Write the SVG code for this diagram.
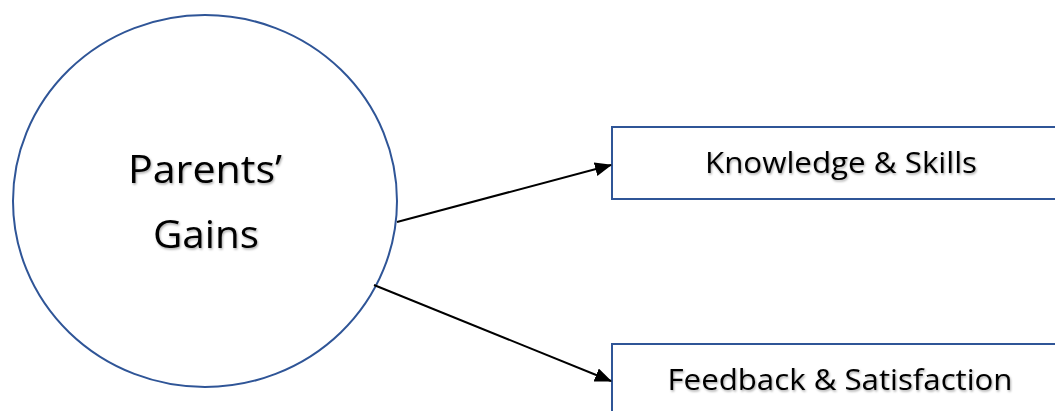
<svg xmlns="http://www.w3.org/2000/svg" width="1055" height="411" viewBox="0 0 1055 411">
  <style>
    .shape { fill: #ffffff; stroke: #2F5597; stroke-width: 2; }
    .label { font-family: "Open Sans", "Noto Sans", sans-serif; fill: #000000; text-anchor: middle; filter: url(#shadow); }
    .conn { stroke: #000000; stroke-width: 2; fill: none; marker-end: url(#arrow); }
  </style>
  <defs>
    <marker id="arrow" viewBox="0 0 17 14" refX="16" refY="7" markerWidth="17" markerHeight="14" markerUnits="userSpaceOnUse" orient="auto">
      <path d="M0,0 L17,7 L0,14 z" fill="#000000"/>
    </marker>
    <filter id="shadow" x="-10%" y="-30%" width="120%" height="160%">
      <feDropShadow dx="1" dy="1.5" stdDeviation="1" flood-color="#000000" flood-opacity="0.35"/>
    </filter>
  </defs>
  <rect width="1055" height="411" fill="#ffffff"/>
  <g id="node-parents-gains">
    <ellipse class="shape" cx="205" cy="201" rx="192" ry="186"/>
    <text class="label" x="205" y="183" font-size="38" textLength="154" lengthAdjust="spacingAndGlyphs">Parents’</text>
    <text class="label" x="206" y="248" font-size="38" textLength="106" lengthAdjust="spacingAndGlyphs">Gains</text>
  </g>
  <g id="node-knowledge-skills">
    <rect class="shape" x="612" y="127" width="460" height="72"/>
    <text class="label" x="841" y="173" font-size="30" textLength="272" lengthAdjust="spacingAndGlyphs">Knowledge &amp; Skills</text>
  </g>
  <g id="node-feedback-satisfaction">
    <rect class="shape" x="612" y="344" width="460" height="80"/>
    <text class="label" x="840" y="390" font-size="30" textLength="345" lengthAdjust="spacingAndGlyphs">Feedback &amp; Satisfaction</text>
  </g>
  <g id="connectors">
    <line class="conn" x1="397" y1="222" x2="611" y2="165"/>
    <line class="conn" x1="374" y1="285" x2="611" y2="381"/>
  </g>
</svg>
